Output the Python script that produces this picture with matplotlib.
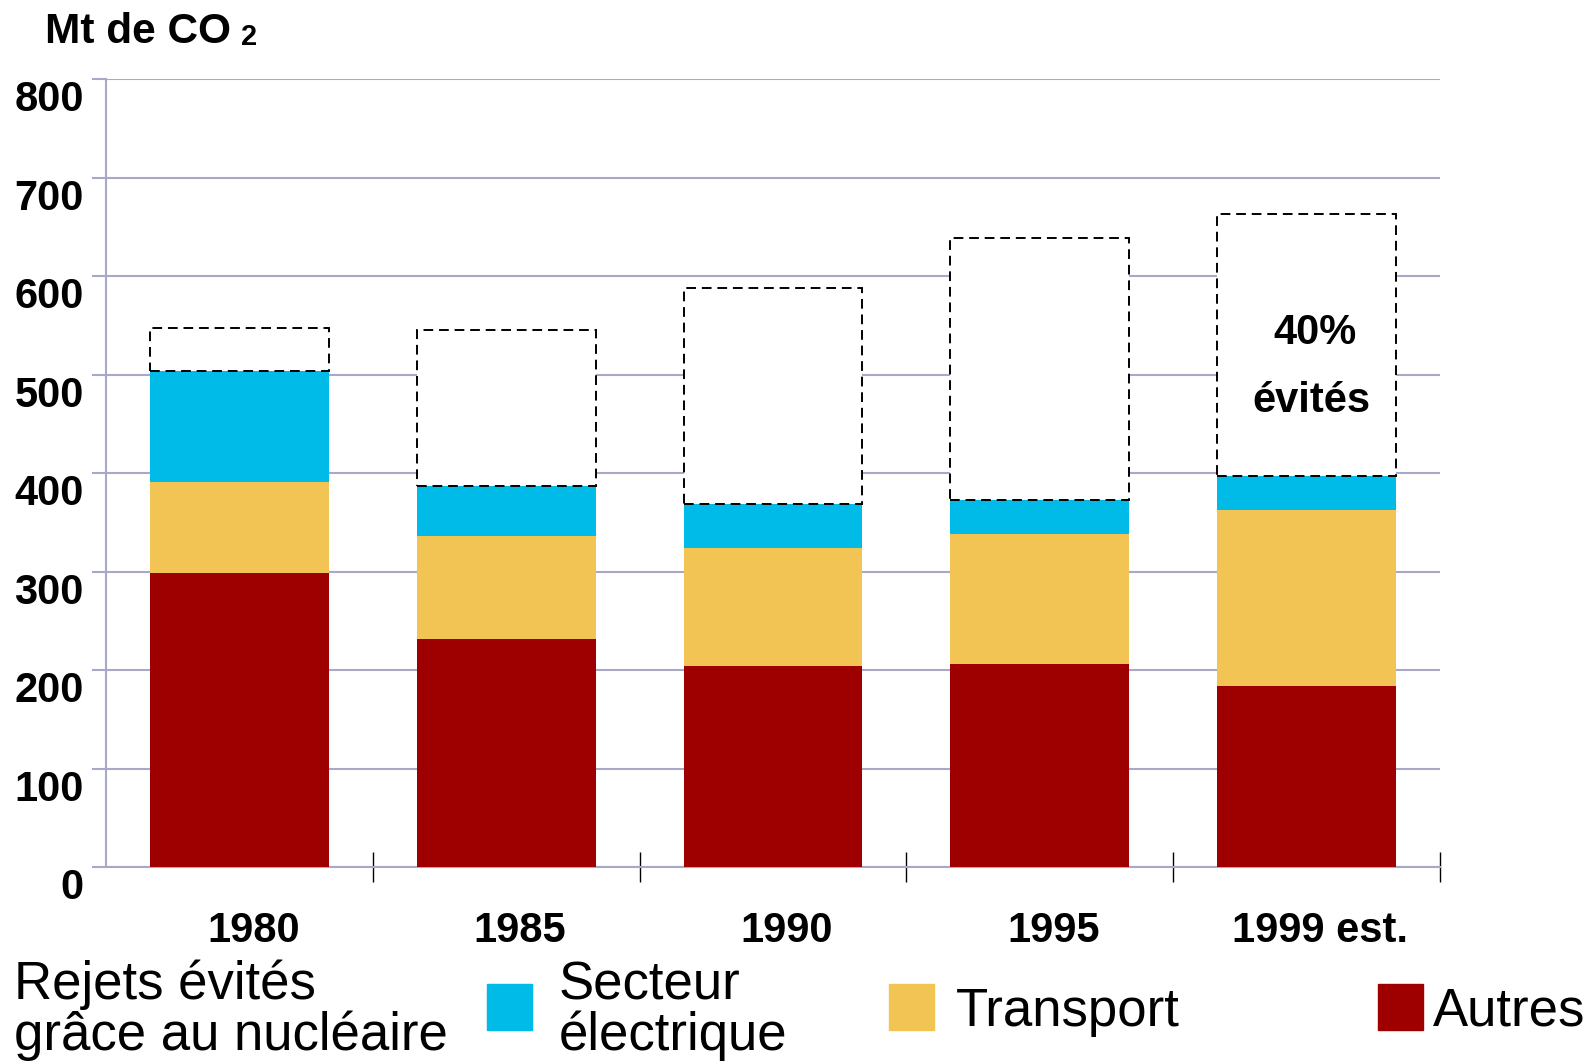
import numpy as np
import matplotlib.pyplot as plt
import matplotlib.transforms as mtrans
from matplotlib.patches import Rectangle

# donnees (Mt de CO2)
annees = ["1980", "1985", "1990", "1995", "1999 est."]
autres = [298, 231, 204, 206, 184]
transport = [93, 105, 120, 132, 178]
secteur_elec = [113, 51, 45, 35, 35]
rejets_evites = [43, 158, 219, 266, 266]

couleur_autres = "#9e0000"
couleur_transport = "#f2c453"
couleur_secteur = "#00bbe7"
couleur_grille = "#a8a8c8"

plt.rcParams['font.family'] = ['Liberation Sans', 'DejaVu Sans']

fig = plt.figure(figsize=(15.9, 10.64), dpi=100)
ax = fig.add_axes([106/1590, 1 - 867/1064, (1440-106)/1590, (867-79)/1064])

x = np.arange(len(annees))
larg = 0.67
bas2 = np.array(autres)
bas3 = bas2 + np.array(transport)
bas4 = bas3 + np.array(secteur_elec)

ax.bar(x, autres, larg, color=couleur_autres, zorder=3)
ax.bar(x, transport, larg, bottom=bas2, color=couleur_transport, zorder=3)
ax.bar(x, secteur_elec, larg, bottom=bas3, color=couleur_secteur, zorder=3)
ax.bar(x, rejets_evites, larg, bottom=bas4, facecolor="white", edgecolor="black",
       linestyle=(0, (5, 3)), linewidth=1.4, zorder=4)

ax.text(x[-1] + 0.03, 542, "40%", ha="center", va="center", fontsize=30,
        fontweight="bold", zorder=5)
ax.text(x[-1] + 0.02, 473, "évités", ha="center", va="center", fontsize=30,
        fontweight="bold", zorder=5)

# axes
ax.set_xlim(-0.5, 4.5)
ax.set_ylim(0, 800)
ax.set_yticks(np.arange(0, 801, 100))
ax.yaxis.grid(True, color=couleur_grille, linewidth=1.5, zorder=0)
ax.set_axisbelow(True)
for s in ["top", "right"]:
    ax.spines[s].set_visible(False)
ax.spines["left"].set_color(couleur_grille)
ax.spines["bottom"].set_color(couleur_grille)
ax.spines["left"].set_linewidth(1.5)
ax.spines["bottom"].set_linewidth(1.5)

ax.tick_params(axis="y", length=10, width=1.5, color=couleur_grille, pad=6,
               labelsize=30)
for lab in ax.get_yticklabels():
    lab.set_fontweight("bold")
    lab.set_transform(lab.get_transform() +
                      mtrans.ScaledTranslation(0, -12/72, fig.dpi_scale_trans))

ax.set_xticks(x)
ax.set_xticklabels(annees, fontsize=30, fontweight="bold")
ax.tick_params(axis="x", which="major", length=0, pad=31.5)
for lab in ax.get_xticklabels():
    lab.set_transform(lab.get_transform() +
                      mtrans.ScaledTranslation(10/72, 0, fig.dpi_scale_trans))
ax.set_xticks(np.arange(0.5, 5, 1), minor=True)
ax.tick_params(axis="x", which="minor", direction="inout", length=21,
               width=1, color="black")

fig.text(45/1590, 1 - 43/1064, "Mt de CO", fontsize=30.5, fontweight="bold",
         va="baseline")
fig.text(241/1590, 1 - 45/1064, "2", fontsize=21, fontweight="bold",
         va="baseline")

# legende
fig.text(14/1590, 1 - 999/1064, "Rejets évités", fontsize=38, va="baseline")
fig.text(14/1590, 1 - 1050/1064, "grâce au nucléaire", fontsize=38, va="baseline")
fig.patches.append(Rectangle((487/1590, 1 - 1030/1064), 45/1590, 46/1064,
                             transform=fig.transFigure, color=couleur_secteur))
fig.text(559/1590, 1 - 999/1064, "Secteur", fontsize=38, va="baseline")
fig.text(559/1590, 1 - 1050/1064, "électrique", fontsize=38, va="baseline")
fig.patches.append(Rectangle((889/1590, 1 - 1030/1064), 45/1590, 46/1064,
                             transform=fig.transFigure, color=couleur_transport))
fig.text(956/1590, 1 - 1026/1064, "Transport", fontsize=38, va="baseline")
fig.patches.append(Rectangle((1378/1590, 1 - 1030/1064), 45/1590, 46/1064,
                             transform=fig.transFigure, color=couleur_autres))
fig.text(1433/1590, 1 - 1026/1064, "Autres", fontsize=38, va="baseline")

fig.savefig("out.png", dpi=100)
